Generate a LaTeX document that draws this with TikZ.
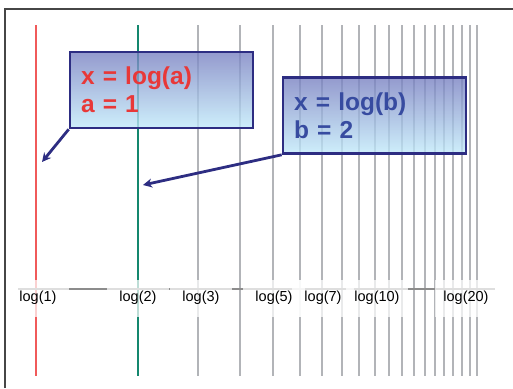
\documentclass[tikz,border=0pt]{standalone}
\usepackage{fontspec}
\setsansfont{Liberation Sans}
\usetikzlibrary{arrows.meta,positioning}
\definecolor{framegray}{RGB}{70,70,70}
\definecolor{gridgray}{RGB}{178,180,184}
\definecolor{linered}{RGB}{240,90,90}
\definecolor{lineteal}{RGB}{20,135,110}
\definecolor{boxnavy}{RGB}{45,45,130}
\definecolor{shadetop}{RGB}{118,126,192}
\definecolor{shadebot}{RGB}{192,234,250}
\definecolor{textred}{RGB}{232,56,56}
\definecolor{textblue}{RGB}{55,75,160}

\begin{document}
\begin{tikzpicture}[x=1pt, y=-1pt,
  gridline/.style={line width=2pt, gridgray},
  axislabel/.style={fill=white, fill opacity=0.72, text opacity=1, minimum width=62pt, minimum height=37pt, inner sep=0pt, font=\sffamily\fontsize{14.5}{16}\selectfont},
  callout/.style={draw=boxnavy, line width=2.6pt, top color=shadetop, bottom color=shadebot, fill opacity=0.78, text opacity=1, text width=161pt, inner sep=11pt, minimum height=76pt, align=left, font=\sffamily\bfseries\fontsize{24.5}{28}\selectfont},
  pointer/.style={-{Stealth[length=9pt,width=9pt]}, line width=2.8pt, boxnavy}]
\useasboundingbox (0,0) rectangle (513,388);

% Frame
\draw[framegray, line width=1.4pt] (5,388) -- (5,9) -- (513,9);

% Lines
\foreach \n in {3,...,20}
  \draw[gridline] ({36+339*log10(\n)},25) -- ({36+339*log10(\n)},376);
\draw[line width=2pt, linered] (36,25) -- (36,376);
\draw[line width=2pt, lineteal] (138,25) -- (138,376);

% Axis
\draw[line width=2.2pt, gray!90] (18,289) -- (495,289);

% Labels
\node[axislabel] (l1) at (38,298) {log(1)};
\node[axislabel] (l2) at (138,298) {log(2)};
\node[axislabel] (l3) at (201,298) {log(3)};
\node[axislabel] (l5) at (274,298) {log(5)};
\node[axislabel] (l7) at (323,298) {log(7)};
\node[axislabel] (l10) at (377,298) {log(10)};
\node[axislabel] (l20) at (466,298) {log(20)};

% Callouts
\node[callout, text=textred] (boxa) at (161.5,90) {x = log(a)\\a = 1};
\node[callout, text=textblue] (boxb) at (374.5,115.5) {x = log(b)\\b = 2};

% Pointers
\coordinate (tipa) at (42,162);
\coordinate (tipb) at (143,185);
\draw[pointer] (boxa.south west) -- (tipa);
\draw[pointer] (boxb.south west) -- (tipb);
\end{tikzpicture}
\end{document}
